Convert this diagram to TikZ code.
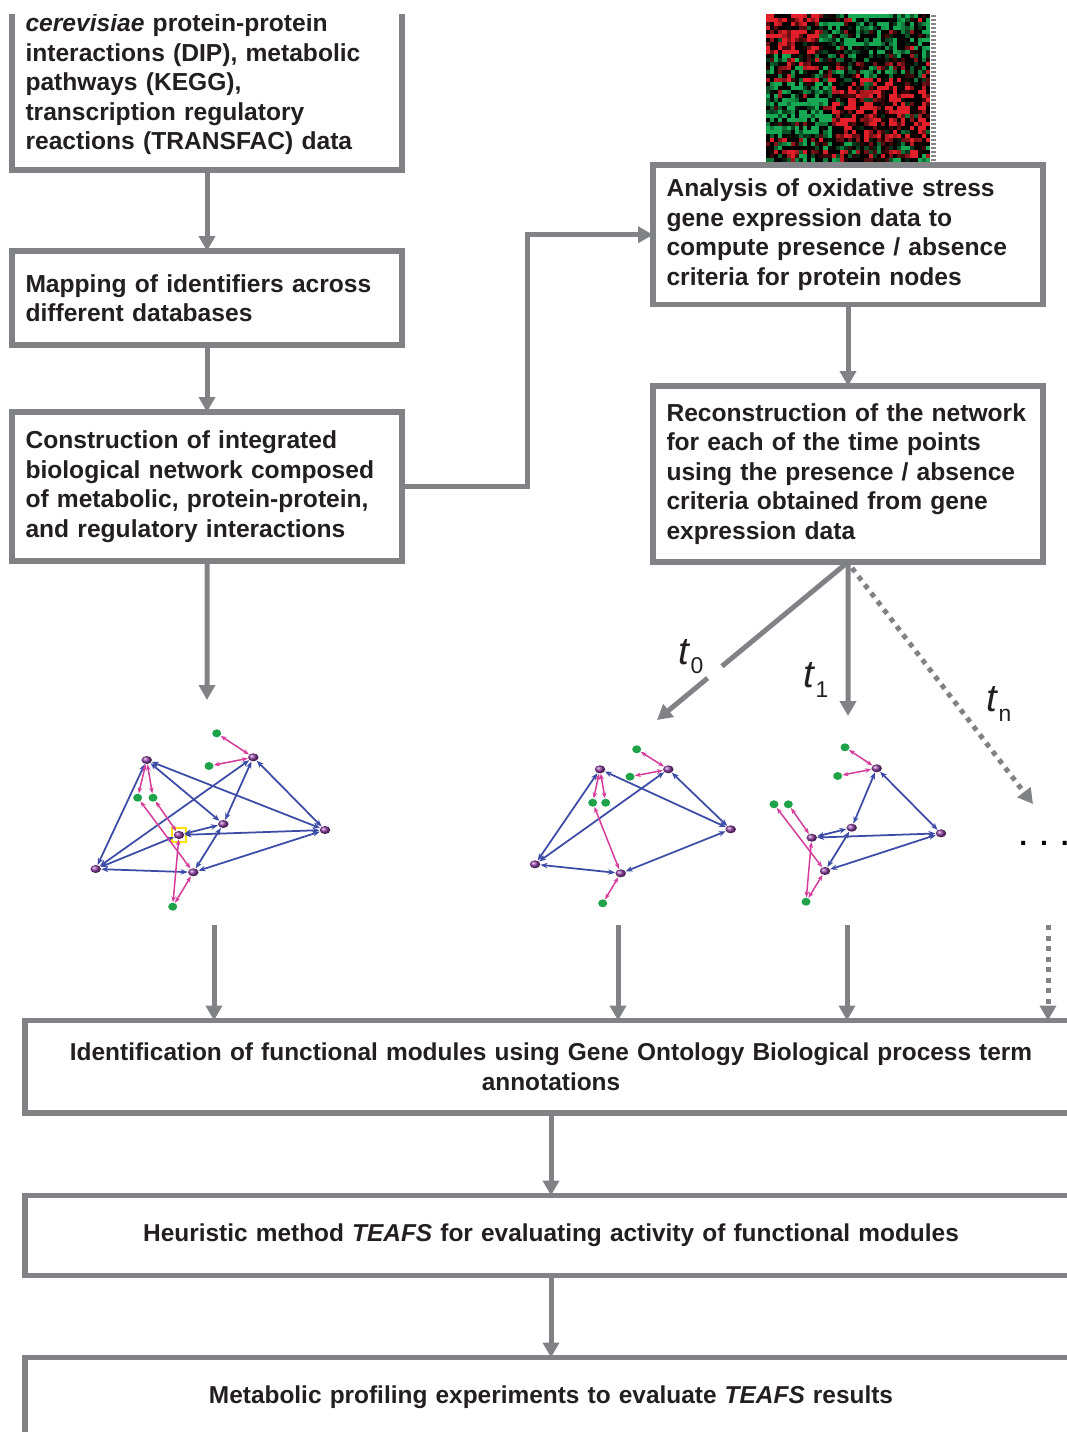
\documentclass[tikz,border=0pt]{standalone}
\usepackage{fontspec}
\setmainfont{Liberation Sans}
\usetikzlibrary{arrows.meta,positioning,calc,shapes.geometric}
\definecolor{cLine}{HTML}{808285}
\definecolor{cInk}{HTML}{231F20}
\definecolor{cEdge}{HTML}{3B4BA6}
\definecolor{cReg}{HTML}{D43C9C}
\definecolor{cProt}{HTML}{8C3D9F}
\definecolor{cMet}{HTML}{1FA34A}
\definecolor{cHot}{HTML}{E3202A}
\definecolor{cCold}{HTML}{16A852}
\newcommand{\tsub}[1]{\textit{t}\raisebox{-0.45ex}{\fontsize{13}{14}\selectfont #1}}

\begin{document}
\begin{tikzpicture}[x=0.2mm, y=-0.2mm,
  box/.style={draw=cLine, line width=1.1mm, outer sep=0pt, align=left, text width=72.6mm, inner xsep=2.7mm, minimum width=78mm, text=cInk, font=\bfseries\fontsize{14}{16.8}\selectfont},
  wbox/.style={draw=cLine, line width=1.1mm, outer sep=0pt, align=center, text width=204mm, minimum width=210.4mm, text=cInk, font=\bfseries\fontsize{13.9}{17}\selectfont},
  flow/.style={draw=cLine, line width=1mm, -{Triangle[length=3mm,width=3.2mm]}},
  dflow/.style={flow, dash pattern=on 1mm off 1.1mm},
  tl/.style={inner sep=0pt, text=cInk, font=\fontsize{22}{24}\selectfont},
  prot/.style={ellipse, ball color=cProt, minimum width=2.1mm, minimum height=1.6mm, inner sep=0pt},
  met/.style={ellipse, fill=cMet, minimum width=1.8mm, minimum height=1.6mm, inner sep=0pt},
  ppi/.style={draw=cEdge, line width=0.35mm, {Stealth[length=1.4mm,width=1.1mm]}-{Stealth[length=1.4mm,width=1.1mm]}},
  reg/.style={draw=cReg, line width=0.3mm, {Stealth[length=1.2mm,width=0.9mm]}-{Stealth[length=1.2mm,width=0.9mm]}}]
\useasboundingbox (0,0) rectangle (1067,1432);
\clip (0,14) rectangle (1067,1432);

\pgfmathsetseed{11}
\foreach \c in {0,...,39}
  \foreach \r in {0,...,36} {
    \pgfmathsetmacro\hb{(\r<10)*((\c<13)*1.2-0.45) + (\r>16)*(\r<31)*((\c<16)*(-1.1)+0.55) + 0.3*sin(\r*97) + 0.25*sin(\c*61+\r*13)}
    \pgfmathsetmacro\hv{\hb+1.8*rnd-0.9}
    \pgfmathsetmacro\hk{int(min(100,max(0,(abs(\hv)-0.3)*170)))}
    \ifdim\hv pt>0pt \def\hc{cHot}\else\def\hc{cCold}\fi
    \fill[\hc!\hk!black] (766+\c*4.1,14+\r*4) rectangle ++(4.2,4.1);
  }
\foreach \r in {0,...,36} \fill[cInk!55] (931,15+\r*4) rectangle ++(5,1.5);

\node[box, anchor=south west, minimum height=34.2mm] (src) at (12,170) {\textit{cerevisiae} protein-protein\\ interactions (DIP), metabolic\\ pathways (KEGG),\\ transcription regulatory\\ reactions (TRANSFAC) data};
\node[box, anchor=north west, minimum height=18.8mm] (map) at (12,251) {Mapping of identifiers across\\ different databases};
\node[box, anchor=north west, minimum height=29.8mm] (con) at (12,412) {Construction of integrated\\ biological network composed\\ of metabolic, protein-protein,\\ and regulatory interactions};
\node[box, anchor=north west, minimum height=27.9mm] (ana) at (653,165) {Analysis of oxidative stress\\ gene expression data to\\ compute presence / absence\\ criteria for protein nodes};
\node[box, anchor=north west, minimum height=35.2mm] (rec) at (653,386) {Reconstruction of the network\\ for each of the time points\\ using the presence / absence\\ criteria obtained from gene\\ expression data};
\node[wbox, anchor=north west, minimum height=18.5mm] (idf) at (25,1020.5) {Identification of functional modules using Gene Ontology Biological process term\\ annotations};
\node[wbox, anchor=north west, minimum height=16mm] (heu) at (25,1195.5) {Heuristic method \textit{TEAFS} for evaluating activity of functional modules};
\node[wbox, anchor=north west, minimum height=15.9mm] (met) at (25,1357.5) {Metabolic profiling experiments to evaluate \textit{TEAFS} results};

\draw[flow] (src.south) -- (map.north);
\draw[flow] (map.south) -- (con.north);
\coordinate (net0in) at (207,700);
\draw[flow] (con.south) -- (net0in);
\draw[flow] (con.east) -| ($(con.east)!0.5!(ana.west)$) |- (ana.west);
\draw[flow] (ana.south) -- (rec.north);

\coordinate (t0tip) at (657,720);
\coordinate (t1tip) at (848,716);
\coordinate (tntip) at (1033,804);
\draw[draw=cLine, line width=1mm] (rec.south) -- ($(rec.south)!0.66!(t0tip)$);
\draw[flow] ($(rec.south)!0.735!(t0tip)$) -- (t0tip);
\draw[flow] (rec.south) -- (t1tip);
\draw[dflow] ($(rec.south)+(4,6)$) -- (tntip);
\node[tl] (t0) at (691,657) {\tsub{0}};
\node[tl] (t1) at (816,680) {\tsub{1}};
\node[tl] (tn) at (999,704) {\tsub{n}};

\foreach \n/\x/\y in {Aa/146.7/760, Ab/253.3/757.3, Ac/223.3/824, Ad/325/830, Ae/179/835, Af/95.7/869, Ah/193.3/872.3,
    Ba/600/769.3, Bb/668.3/769.3, Bd/730.7/829.3, Bf/535/864.3, Bh/620.7/873.3,
    Cb/876.7/768.3, Cc/851.7/827.7, Cd/941/833.3, Ce/811.7/837.7, Ch/825/871}
  \node[prot] (\n) at (\x,\y) {};
\foreach \n/\x/\y in {Ag1/216.7/733.3, Ag2/209/766, Ag3/137.7/797.7, Ag4/153/797.7, Ag5/172.7/906.7,
    Bg1/636.7/749.3, Bg2/630/776.7, Bg3/592.7/802.7, Bg4/605.7/802.7, Bg5/602.7/903.3,
    Cg1/845/747.3, Cg2/837.7/776, Cg3/774/804.3, Cg4/788.3/804.3, Cg5/806/901.7}
  \node[met] (\n) at (\x,\y) {};
\node[draw=yellow!85!orange, line width=0.35mm, minimum size=2.7mm, inner sep=0pt] (Asel) at (Ae) {};
\foreach \a/\b in {Aa/Af, Aa/Ac, Aa/Ad, Ab/Af, Ab/Ac, Ab/Ad, Ac/Ae, Ac/Ah, Ae/Ad, Ae/Af, Af/Ah, Ah/Ad,
    Ba/Bf, Ba/Bd, Bb/Bf, Bb/Bd, Bf/Bh, Bh/Bd,
    Cb/Cc, Cb/Cd, Cc/Ce, Ce/Cd, Cc/Ch, Ch/Cd}
  \draw[ppi] (\a) -- (\b);
\foreach \a/\b in {Aa/Ag3, Aa/Ag4, Ab/Ag1, Ab/Ag2, Ah/Ag3, Ae/Ag4, Ae/Ag5, Ah/Ag5,
    Ba/Bg3, Ba/Bg4, Bb/Bg1, Bb/Bg2, Bh/Bg3, Bh/Bg5,
    Cb/Cg1, Cb/Cg2, Ce/Cg4, Ch/Cg3, Ce/Cg5, Ch/Cg5}
  \draw[reg] (\a) -- (\b);
\node[anchor=base west, inner sep=0pt, text=black, font=\bfseries\fontsize{16}{18}\selectfont] (dots) at (1019,845) {.\hspace{2.6mm}.\hspace{2.6mm}.};

\coordinate (o0) at (214,925);
\coordinate (o1) at (618,925);
\coordinate (o2) at (847,925);
\coordinate (on) at (1048,925);
\draw[flow] (o0) -- (o0 |- idf.north);
\draw[flow] (o1) -- (o1 |- idf.north);
\draw[flow] (o2) -- (o2 |- idf.north);
\draw[dflow] (on) -- (on |- idf.north);
\draw[flow] (idf.south) -- (heu.north);
\draw[flow] (heu.south) -- (met.north);
\end{tikzpicture}
\end{document}
